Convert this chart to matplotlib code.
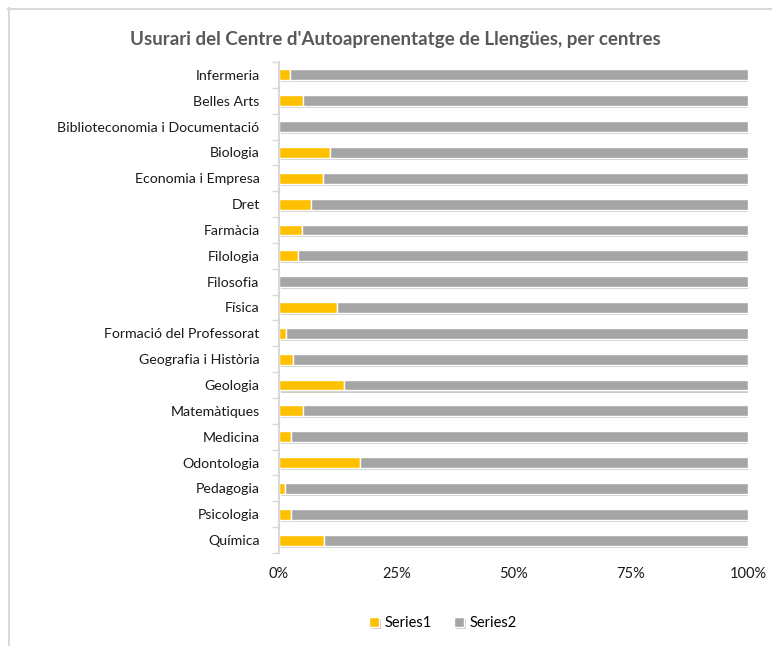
import matplotlib
matplotlib.use('Agg')
import matplotlib.pyplot as plt
import matplotlib.patheffects as pe
from matplotlib.lines import Line2D
import numpy as np

plt.rcParams['font.family'] = ['Lato', 'DejaVu Sans']

centres = ["Infermeria", "Belles Arts", "Biblioteconomia i Documentació", "Biologia",
           "Economia i Empresa", "Dret", "Farmàcia", "Filologia", "Filosofia", "Física",
           "Formació del Professorat", "Geografia i Història", "Geologia", "Matemàtiques",
           "Medicina", "Odontologia", "Pedagogia", "Psicologia", "Química"]
series1 = [2.3, 5.1, 0.0, 10.8, 9.4, 6.8, 4.9, 4.0, 0.0, 12.3,
           1.4, 3.0, 13.8, 5.1, 2.6, 17.2, 1.3, 2.6, 9.6]
series2 = [97.7, 94.9, 100.0, 89.2, 90.6, 93.2, 95.1, 96.0, 100.0, 87.7,
           98.6, 97.0, 86.2, 94.9, 97.4, 82.8, 98.7, 97.4, 90.4]
xticks = [0, 25, 50, 75, 100]
xlabels = ["0%", "25%", "50%", "75%", "100%"]

yellow = "#ffc000"
grey = "#a5a5a5"

W, H = 772, 646
fig = plt.figure(figsize=(W / 100, H / 100), dpi=100)
ax = fig.add_axes([279 / W, 1 - 553 / H, (748 - 279) / W, (553 - 62) / H])

# chart frame: only the top and left edges fall inside the image
fig.add_artist(Line2D([8 / W, 1], [1 - 8.5 / H] * 2, transform=fig.transFigure,
                      color="#d9d9d9", lw=1.5))
fig.add_artist(Line2D([8.5 / W] * 2, [0, 1 - 8 / H], transform=fig.transFigure,
                      color="#d9d9d9", lw=1.5))

y = np.arange(len(centres))
shadow = [pe.SimplePatchShadow(offset=(1.5, -1.5), alpha=0.25), pe.Normal()]
b1 = ax.barh(y, series1, height=0.42, color=yellow, edgecolor="white",
             linewidth=1.0, label="Series1")
b2 = ax.barh(y, series2, left=series1, height=0.42, color=grey, edgecolor="white",
             linewidth=1.0, label="Series2")
for bar in list(b1) + list(b2):
    bar.set_path_effects(shadow)

ax.set_ylim(len(centres) - 0.5, -0.5)
ax.set_xlim(0, 100)
ax.set_yticks(y)
ax.set_yticklabels(centres, fontsize=10.2, color="#1a1a1a")
ax.set_yticks(np.arange(-0.5, len(centres)), minor=True)
ax.tick_params(axis='y', which='major', length=0, pad=14)
ax.tick_params(axis='y', which='minor', length=5, color="#d9d9d9", width=1)
ax.set_xticks(xticks)
ax.set_xticklabels(xlabels, fontsize=10.5, color="#1a1a1a")
ax.tick_params(axis='x', length=0, pad=10)

for side in ['top', 'right', 'bottom']:
    ax.spines[side].set_visible(False)
ax.spines['left'].set_color("#d9d9d9")
ax.spines['left'].set_linewidth(1.5)

fig.text(395 / W, 1 - 40 / H, "Usurari del Centre d'Autoaprenentatge de Llengües, per centres",
         ha='center', va='center', fontsize=13.5, fontweight='bold', color="#595959")

fig.legend(handles=[b1, b2], loc='center', bbox_to_anchor=(443 / W, 1 - 623 / H),
           ncol=2, frameon=False, fontsize=10.5, handlelength=0.7, handleheight=0.7,
           columnspacing=1.5, handletextpad=0.4)

fig.savefig("out.png", dpi=100)
